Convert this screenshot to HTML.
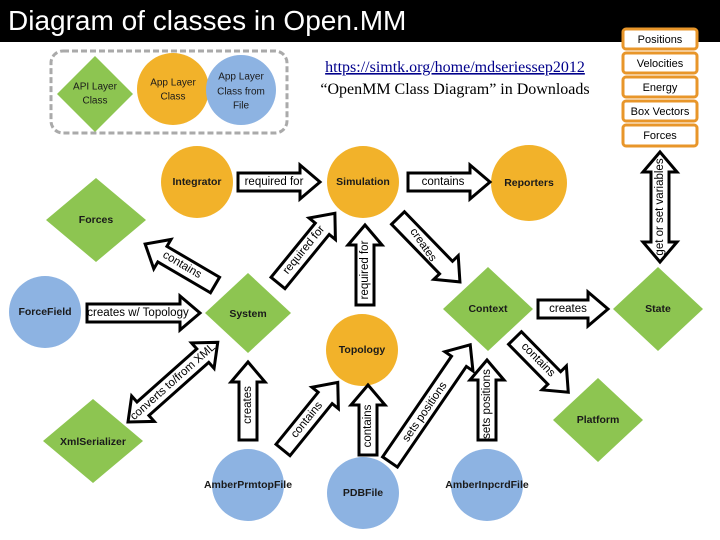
<!DOCTYPE html>
<html><head><meta charset="utf-8"><style>
body{margin:0;background:#fff;width:720px;height:540px;overflow:hidden}
svg{display:block}
.n{font-family:"Liberation Sans",sans-serif;font-size:10.5px;font-weight:bold;fill:#1a1a1a;text-anchor:middle;dominant-baseline:central}
.a{fill:#fff;stroke:#000;stroke-width:3;stroke-linejoin:miter}
.t{font-family:"Liberation Sans",sans-serif;font-size:11.5px;fill:#000;text-anchor:middle;dominant-baseline:central}
.b{fill:#fff;stroke:#E8962A;stroke-width:3}
.bt{font-family:"Liberation Sans",sans-serif;font-size:11px;fill:#000;text-anchor:middle;dominant-baseline:central}
</style></head><body>
<svg width="720" height="540" viewBox="0 0 720 540">
<rect x="0" y="0" width="720" height="42" fill="#000"/>
<text x="8" y="30" font-family="Liberation Sans,sans-serif" font-size="28" fill="#fff">Diagram of classes in Open.MM</text>

<!-- legend -->
<rect x="51" y="51" width="236" height="82" rx="12" fill="none" stroke="#aaa" stroke-width="3" stroke-dasharray="6,3"/>
<polygon points="95,56 133,94 95,132 57,94" fill="#8DC551"/>
<text class="n" style="font-weight:normal;font-size:10px" x="95" y="87">API Layer</text>
<text class="n" style="font-weight:normal;font-size:10px" x="95" y="101">Class</text>
<circle cx="173" cy="89" r="36" fill="#F2B22A"/>
<text class="n" style="font-weight:normal;font-size:10px" x="173" y="83">App Layer</text>
<text class="n" style="font-weight:normal;font-size:10px" x="173" y="97">Class</text>
<circle cx="241" cy="90" r="35" fill="#8DB3E2"/>
<text class="n" style="font-weight:normal;font-size:10px" x="241" y="77">App Layer</text>
<text class="n" style="font-weight:normal;font-size:10px" x="241" y="92">Class from</text>
<text class="n" style="font-weight:normal;font-size:10px" x="241" y="106">File</text>

<text x="455" y="72" text-anchor="middle" font-family="Liberation Serif,serif" font-size="16" fill="#00008B" text-decoration="underline">https://simtk.org/home/mdseriessep2012</text>
<text x="455" y="94" text-anchor="middle" font-family="Liberation Serif,serif" font-size="16" fill="#000">“OpenMM Class Diagram” in Downloads</text>

<!-- state boxes -->
<rect class="b" x="623" y="29" width="74" height="20" rx="3"/><text class="bt" x="660" y="40">Positions</text>
<rect class="b" x="623" y="53" width="74" height="20" rx="3"/><text class="bt" x="660" y="64">Velocities</text>
<rect class="b" x="623" y="77" width="74" height="20" rx="3"/><text class="bt" x="660" y="88">Energy</text>
<rect class="b" x="623" y="101" width="74" height="20" rx="3"/><text class="bt" x="660" y="112">Box Vectors</text>
<rect class="b" x="623" y="125" width="74" height="21" rx="3"/><text class="bt" x="660" y="136">Forces</text>

<!-- nodes -->
<circle cx="197" cy="182" r="36" fill="#F2B22A"/><text class="n" x="197" y="182">Integrator</text>
<circle cx="363" cy="182" r="36" fill="#F2B22A"/><text class="n" x="363" y="182">Simulation</text>
<circle cx="529" cy="183" r="38" fill="#F2B22A"/><text class="n" x="529" y="183">Reporters</text>
<polygon points="96,178 146,220 96,262 46,220" fill="#8DC551"/><text class="n" x="96" y="220">Forces</text>
<circle cx="45" cy="312" r="36" fill="#8DB3E2"/><text class="n" x="45" y="312">ForceField</text>
<polygon points="248,273 291,313 248,353 205,313" fill="#8DC551"/><text class="n" x="248" y="314">System</text>
<polygon points="488,267 533,309 488,351 443,309" fill="#8DC551"/><text class="n" x="488" y="309">Context</text>
<polygon points="658,267 703,309 658,351 613,309" fill="#8DC551"/><text class="n" x="658" y="309">State</text>
<circle cx="362" cy="350" r="36" fill="#F2B22A"/><text class="n" x="362" y="350">Topology</text>
<polygon points="93,399 143,441 93,483 43,441" fill="#8DC551"/><text class="n" x="93" y="442">XmlSerializer</text>
<polygon points="598,378 643,420 598,462 553,420" fill="#8DC551"/><text class="n" x="598" y="420">Platform</text>
<circle cx="248" cy="485" r="36" fill="#8DB3E2"/><text class="n" x="248" y="485">AmberPrmtopFile</text>
<circle cx="363" cy="493" r="36" fill="#8DB3E2"/><text class="n" x="363" y="493">PDBFile</text>
<circle cx="487" cy="485" r="36" fill="#8DB3E2"/><text class="n" x="487" y="485">AmberInpcrdFile</text>

<!-- arrows -->
<polygon class="a" transform="translate(238,182)" points="0,-9 62,-9 62,-17 82,0 62,17 62,9 0,9"/>
<text class="t" x="274" y="182">required for</text>
<polygon class="a" transform="translate(408,182)" points="0,-9 62,-9 62,-17 82,0 62,17 62,9 0,9"/>
<text class="t" x="443" y="182">contains</text>
<polygon class="a" transform="translate(87,313)" points="0,-9 93,-9 93,-17 113,0 93,17 93,9 0,9"/>
<text class="t" x="138" y="313">creates w/ Topology</text>
<polygon class="a" transform="translate(215,285) rotate(210.4)" points="0,-9 61,-9 61,-17 81,0 61,17 61,9 0,9"/>
<text class="t" transform="translate(182,265) rotate(30.4)">contains</text>
<polygon class="a" transform="translate(278,283) rotate(-50.8)" points="0,-9 70,-9 70,-17 90,0 70,17 70,9 0,9"/>
<text class="t" transform="translate(304,250) rotate(-50.8)">required for</text>
<polygon class="a" transform="translate(365,305) rotate(-90)" points="0,-9 60,-9 60,-17 80,0 60,17 60,9 0,9"/>
<text class="t" transform="translate(365,270) rotate(-90)">required for</text>
<polygon class="a" transform="translate(398,218) rotate(45.9)" points="0,-9 69,-9 69,-17 89,0 69,17 69,9 0,9"/>
<text class="t" transform="translate(423,245) rotate(55)">creates</text>
<polygon class="a" transform="translate(538,309)" points="0,-9 50,-9 50,-17 70,0 50,17 50,9 0,9"/>
<text class="t" x="568" y="309">creates</text>
<polygon class="a" transform="translate(660,152) rotate(90)" points="0,0 20,-17 20,-9 90,-9 90,-17 110,0 90,17 90,9 20,9 20,17"/>
<text class="t" transform="translate(660,207) rotate(-90)">get or set variables</text>
<polygon class="a" transform="translate(128,422) rotate(-41.6)" points="0,0 20,-17 20,-9 100,-9 100,-17 120,0 100,17 100,9 20,9 20,17"/>
<text class="t" transform="translate(173,382) rotate(-41.6)">converts to/from XML</text>
<polygon class="a" transform="translate(248,440) rotate(-90)" points="0,-9 58,-9 58,-17 78,0 58,17 58,9 0,9"/>
<text class="t" transform="translate(248,405) rotate(-90)">creates</text>
<polygon class="a" transform="translate(283,450) rotate(-51)" points="0,-9 67,-9 67,-17 87,0 67,17 67,9 0,9"/>
<text class="t" transform="translate(307,420) rotate(-51)">contains</text>
<polygon class="a" transform="translate(368,455) rotate(-90)" points="0,-9 50,-9 50,-17 70,0 50,17 50,9 0,9"/>
<text class="t" transform="translate(368,426) rotate(-90)">contains</text>
<polygon class="a" transform="translate(390,462) rotate(-55.6)" points="0,-9 122,-9 122,-17 142,0 122,17 122,9 0,9"/>
<text class="t" transform="translate(425,412) rotate(-55.6)">sets positions</text>
<polygon class="a" transform="translate(487,440) rotate(-90)" points="0,-9 60,-9 60,-17 80,0 60,17 60,9 0,9"/>
<text class="t" transform="translate(487,404) rotate(-90)">sets positions</text>
<polygon class="a" transform="translate(515,338) rotate(45.5)" points="0,-9 56,-9 56,-17 76,0 56,17 56,9 0,9"/>
<text class="t" transform="translate(538,360) rotate(45.5)">contains</text>
</svg>
</body></html>
